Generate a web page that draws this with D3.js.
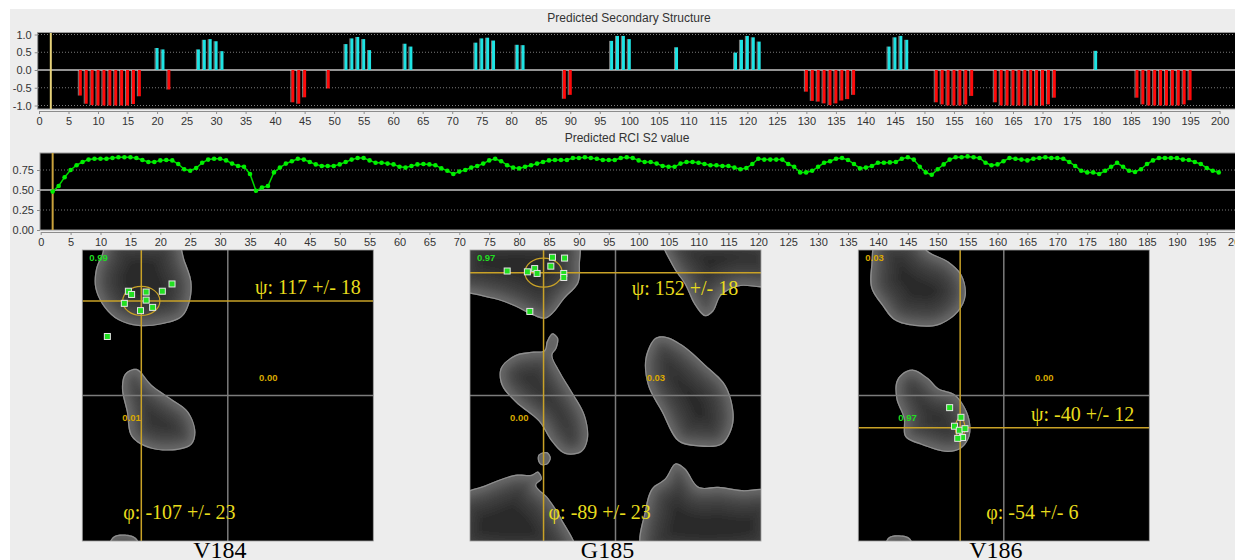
<!DOCTYPE html>
<html>
<head>
<meta charset="utf-8">
<script src="https://cdn.jsdelivr.net/npm/d3@7"></script>
<style>
  body { margin: 0; background: #fff; }
  svg { display: block; font-family: "Liberation Sans", Arial, sans-serif; }
</style>
</head>
<body>
<svg id="chart" width="1235" height="560"></svg>
<script>
// predicted secondary structure, + strand (cyan), - helix (red)
const ssResidue = [7, 8, 9, 10, 11, 12, 13, 14, 15, 16, 17, 20, 21, 22, 27, 28, 29, 30, 31,
  43, 44, 45, 49, 52, 53, 54, 55, 56, 62, 63, 74, 75, 76, 77, 81, 82, 89, 90,
  97, 98, 99, 100, 108, 118, 119, 120, 121, 122,
  130, 131, 132, 133, 134, 135, 136, 137, 138, 144, 145, 146, 147,
  152, 153, 154, 155, 156, 157, 158,
  162, 163, 164, 165, 166, 167, 168, 169, 170, 171, 172, 179,
  186, 187, 188, 189, 190, 191, 192, 193, 194, 195]
const ssValue = [-0.72, -0.95, -0.99, -1.0, -1.0, -1.0, -1.0, -1.0, -1.0, -0.96, -0.74, 0.62, 0.58, -0.55, 0.58, 0.85, 0.87, 0.81, 0.53,
  -0.91, -0.95, -0.77, -0.52, 0.73, 0.89, 0.93, 0.87, 0.56, 0.74, 0.66, 0.77, 0.89, 0.91, 0.83, 0.71, 0.70, -0.81, -0.70,
  0.82, 0.96, 0.96, 0.87, 0.64, 0.49, 0.85, 0.96, 0.92, 0.80,
  -0.61, -0.87, -0.89, -0.94, -0.99, -0.94, -0.86, -0.82, -0.70, 0.66, 0.92, 0.96, 0.85,
  -0.91, -0.97, -1.0, -1.0, -1.0, -0.97, -0.73,
  -0.91, -1.0, -1.0, -1.0, -1.0, -1.0, -1.0, -1.0, -1.0, -0.97, -0.78, 0.54,
  -0.78, -0.97, -1.0, -1.0, -1.0, -1.0, -1.0, -1.0, -0.97, -0.85]
const ssTicks = [-1, -0.5, 0, 0.5, 1]

// predicted RCI S2, residues 2..197
const s2First = 2
const s2Value = [0.48, 0.55, 0.66, 0.75, 0.81, 0.85, 0.88, 0.89, 0.89, 0.89, 0.90, 0.91, 0.91, 0.91, 0.90, 0.875, 0.85, 0.85, 0.87,
  0.875, 0.87, 0.825, 0.76, 0.74, 0.775, 0.84, 0.88, 0.89, 0.89, 0.87, 0.83, 0.80, 0.79, 0.70, 0.49, 0.53, 0.55, 0.72, 0.78,
  0.83, 0.86, 0.89, 0.88, 0.85, 0.82, 0.80, 0.80, 0.80, 0.82, 0.85, 0.88, 0.90, 0.90, 0.87, 0.84, 0.84, 0.83, 0.82, 0.79,
  0.78, 0.80, 0.82, 0.825, 0.82, 0.81, 0.77, 0.74, 0.70, 0.73, 0.75, 0.78, 0.80, 0.83, 0.87, 0.89, 0.86, 0.81, 0.78, 0.77,
  0.79, 0.81, 0.83, 0.85, 0.87, 0.875, 0.875, 0.875, 0.90, 0.90, 0.91, 0.90, 0.89, 0.875, 0.875, 0.875, 0.90, 0.91, 0.90,
  0.87, 0.85, 0.85, 0.83, 0.80, 0.79, 0.79, 0.83, 0.85, 0.85, 0.84, 0.825, 0.81, 0.81, 0.80, 0.80, 0.78, 0.76, 0.775,
  0.825, 0.89, 0.88, 0.88, 0.88, 0.88, 0.825, 0.79, 0.72, 0.72, 0.74, 0.79, 0.84, 0.86, 0.89, 0.90, 0.875, 0.825, 0.77,
  0.78, 0.80, 0.84, 0.84, 0.845, 0.85, 0.89, 0.91, 0.88, 0.79, 0.72, 0.69, 0.76, 0.82, 0.88, 0.91, 0.91, 0.92, 0.91, 0.90,
  0.84, 0.81, 0.82, 0.86, 0.90, 0.89, 0.88, 0.87, 0.89, 0.90, 0.91, 0.90, 0.90, 0.89, 0.85, 0.80, 0.74, 0.72, 0.72, 0.70,
  0.74, 0.79, 0.84, 0.79, 0.74, 0.725, 0.76, 0.825, 0.87, 0.90, 0.90, 0.90, 0.90, 0.88, 0.875, 0.85, 0.825, 0.775, 0.74, 0.72]
const s2Ticks = [0, 0.25, 0.5, 0.75]
const markedResidue = 2

// Ramachandran panels
const ramaName = ["V184", "G185", "V186"]
const ramaPhi = [-107, -89, -54]
const ramaPhiErr = [23, 23, 6]
const ramaPsi = [117, 152, -40]
const ramaPsiErr = [18, 18, 12]
// region label anchors: beta, alpha-L, alpha-R
const regionPhi = [-160, 50, -119]
const regionPsi = [170, 22, -28]
const regionProb = [["0.99", "0.00", "0.01"], ["0.97", "0.03", "0.00"], ["0.03", "0.00", "0.97"]]

const matchesV184 = [[-123, 129], [-119, 125], [-101, 128], [-81, 129], [-69, 138], [-128, 114], [-101, 118], [-93, 109], [-108, 105], [-149, 73]]
const matchesG185 = [[-134, 154], [-109, 153], [-100, 157], [-97, 151], [-78, 171], [-63, 170], [-80, 160], [-64, 151], [-64, 146], [-106, 104]]
const matchesV186 = [[-67, -15], [-53, -27], [-61, -38], [-55, -43], [-48, -41], [-51, -52], [-57, -53]]

// density region outlines (phi, psi)
const blobsV184 = [
  [[-164, 133], [-163, 157], [-156, 174], [-148, 195], [-65, 195], [-53, 166], [-45, 141], [-47, 116], [-57, 97], [-82, 88], [-111, 86], [-135, 93], [-152, 108]],
  [[-127, 27], [-113, 33], [-94, 13], [-70, -4], [-49, -20], [-40, -45], [-45, -61], [-61, -67], [-94, -66], [-119, -51], [-125, -20], [-131, 9]],
  [[-148, -195], [-142, -175], [-127, -172], [-113, -177], [-109, -195]]
]
const blobsG185 = [
  [[-195, 195], [-195, 133], [-170, 124], [-145, 118], [-124, 110], [-104, 100], [-87, 95], [-77, 102], [-63, 120], [-46, 139], [-44, 161], [-48, 195]],
  [[59, 195], [70, 161], [86, 137], [98, 112], [111, 98], [121, 104], [131, 124], [152, 135], [195, 137], [195, 195]],
  [[-142, 34], [-124, 50], [-104, 54], [-88, 56], [-85, 67], [-78, 77], [-71, 71], [-73, 58], [-78, 50], [-69, 30], [-54, 5], [-38, -24], [-34, -53], [-42, -70], [-63, -72], [-79, -57], [-95, -32], [-124, -8], [-141, 13]],
  [[-95, -73], [-85, -70], [-80, -77], [-84, -85], [-92, -86], [-96, -80]],
  [[49, 71], [61, 73], [82, 63], [111, 38], [136, 13], [146, -20], [144, -41], [131, -61], [103, -63], [78, -57], [57, -20], [40, 13], [37, 46]],
  [[-195, -127], [-161, -111], [-124, -98], [-104, -98], [-96, -94], [-91, -103], [-98, -111], [-83, -127], [-67, -152], [-50, -195], [-195, -195]],
  [[34, -195], [37, -140], [45, -115], [61, -103], [74, -84], [86, -90], [103, -113], [127, -113], [156, -117], [195, -119], [195, -195]]
]
const blobsV186 = [
  [[-157, 195], [-164, 161], [-164, 133], [-151, 112], [-135, 93], [-110, 86], [-81, 87], [-56, 104], [-47, 124], [-52, 149], [-69, 166], [-93, 178], [-110, 195]],
  [[-126, 27], [-112, 32], [-93, 21], [-81, 9], [-60, 1], [-44, -24], [-42, -49], [-52, -65], [-69, -70], [-102, -61], [-122, -51], [-124, -28], [-133, -4], [-133, 17]],
  [[-147, -195], [-143, -176], [-131, -173], [-116, -177], [-112, -195]]
]
const ramaMatches = [matchesV184, matchesG185, matchesV186]
const ramaBlobs = [blobsV184, blobsG185, blobsV186]

const svg = d3.select("#chart")
const defs = svg.append("defs")

defs.append("filter").attr("id", "soft")
  .attr("x", "-10%").attr("y", "-10%").attr("width", "120%").attr("height", "120%")
  .append("feGaussianBlur").attr("stdDeviation", 3)

svg.append("rect")
  .attr("x", 10).attr("y", 9).attr("width", 1225).attr("height", 551)
  .attr("fill", "#ededed")

function styleAxis(g) {
  g.selectAll("path, line").attr("stroke", "#8c8c8c")
  g.selectAll("text").attr("fill", "#333").style("font-size", "11px")
    .style("font-family", "'Liberation Sans', Arial, sans-serif")
}

// ---------- secondary structure ----------
var x1 = d3.scaleLinear().domain([0, 200]).range([39, 1219.6])
var y1 = d3.scaleLinear().domain([-1, 1]).range([105.5, 34.5])

svg.append("text")
  .attr("x", 629).attr("y", 22).attr("text-anchor", "middle")
  .attr("fill", "#333").style("font-size", "12px")
  .text("Predicted Secondary Structure")

svg.append("rect")
  .attr("x", 37.7).attr("y", 32.5).attr("width", 1215).attr("height", 76.5)
  .attr("fill", "#000").attr("stroke", "#9a9a9a")

svg.append("g").selectAll("line")
  .data(ssTicks.filter(d => d !== 0))
  .join("line")
  .attr("x1", 38).attr("x2", 1235)
  .attr("y1", d => y1(d)).attr("y2", d => y1(d))
  .attr("stroke", "#7a7a7a").attr("stroke-dasharray", "1,2")

svg.append("line")
  .attr("x1", 38).attr("x2", 1235).attr("y1", y1(0)).attr("y2", y1(0))
  .attr("stroke", "#c4c4c4").attr("stroke-width", 1.5)

svg.append("line")
  .attr("x1", x1(markedResidue)).attr("x2", x1(markedResidue))
  .attr("y1", 33).attr("y2", 109)
  .attr("stroke", "#e6d27a").attr("stroke-width", 2)

var ssData = ssResidue.map((r, i) => ({ r: r, v: ssValue[i] }))
var bars = svg.append("g").selectAll("g").data(ssData).join("g")
bars.append("rect")
  .attr("x", d => x1(d.r) - 1.5)
  .attr("y", d => Math.min(y1(d.v), y1(0)))
  .attr("width", 3)
  .attr("height", d => Math.abs(y1(d.v) - y1(0)))
  .attr("fill", d => d.v > 0 ? "#1ee3e3" : "#ff0a0a")
bars.append("line")
  .attr("x1", d => x1(d.r) - 2).attr("x2", d => x1(d.r) - 2)
  .attr("y1", d => y1(d.v)).attr("y2", y1(0))
  .attr("stroke", "#e2e2e2").attr("stroke-opacity", 0.55)

svg.append("g")
  .attr("transform", "translate(0,111)")
  .call(d3.axisBottom(x1).tickValues(d3.range(0, 201, 5)).tickSize(3).tickSizeOuter(0))
  .call(styleAxis)

svg.append("g")
  .attr("transform", "translate(37.7,0)")
  .call(d3.axisLeft(y1).tickValues(ssTicks).tickFormat(d => d.toFixed(1)).tickSize(3))
  .call(g => g.select(".domain").remove())
  .call(styleAxis)

// ---------- RCI S2 ----------
var x2 = d3.scaleLinear().domain([0, 200]).range([40.7, 1236.7])
var y2 = d3.scaleLinear().domain([0, 1]).range([230, 150])

svg.append("text")
  .attr("x", 627).attr("y", 142).attr("text-anchor", "middle")
  .attr("fill", "#333").style("font-size", "12px")
  .text("Predicted RCI S2 value")

svg.append("rect")
  .attr("x", 40).attr("y", 153).attr("width", 1210).attr("height", 77)
  .attr("fill", "#000").attr("stroke", "#9a9a9a")

svg.append("g").selectAll("line")
  .data([0.25, 0.75])
  .join("line")
  .attr("x1", 40).attr("x2", 1235)
  .attr("y1", d => y2(d)).attr("y2", d => y2(d))
  .attr("stroke", "#7a7a7a").attr("stroke-dasharray", "1,2")

svg.append("line")
  .attr("x1", 40).attr("x2", 1235).attr("y1", y2(0.5)).attr("y2", y2(0.5))
  .attr("stroke", "#c4c4c4").attr("stroke-width", 1.5)

svg.append("line")
  .attr("x1", x2(markedResidue)).attr("x2", x2(markedResidue))
  .attr("y1", 153).attr("y2", 230)
  .attr("stroke", "#c9a23c").attr("stroke-width", 2)

var s2Data = s2Value.map((v, i) => ({ r: s2First + i, v: v }))
var line = d3.line()
  .x(d => x2(d.r))
  .y(d => y2(d.v))

svg.append("path")
  .attr("d", line(s2Data))
  .attr("fill", "none").attr("stroke", "#00d800").attr("stroke-width", 1.5)

svg.append("g").selectAll("circle")
  .data(s2Data)
  .join("circle")
  .attr("cx", d => x2(d.r)).attr("cy", d => y2(d.v))
  .attr("r", 2.3).attr("fill", "#00f000")

svg.append("g")
  .attr("transform", "translate(0,232)")
  .call(d3.axisBottom(x2).tickValues(d3.range(0, 201, 5)).tickSize(3).tickSizeOuter(0))
  .call(styleAxis)

svg.append("g")
  .attr("transform", "translate(40,0)")
  .call(d3.axisLeft(y2).tickValues(s2Ticks).tickFormat(d => d.toFixed(2)).tickSize(3))
  .call(g => g.select(".domain").remove())
  .call(styleAxis)

// ---------- Ramachandran plots ----------
var ramaLeft = [82.3, 470, 858.3]
var ramaTop = 250, ramaSize = 291
var psiLabelX = [172.7, 161.7, 172.7]
var phiLabelDx = [-18, 5, 26]
var bands = [
  { w: 56, c: "#353535" },
  { w: 40, c: "#404040" },
  { w: 26, c: "#4d4d4d" },
  { w: 15, c: "#5a5a5a" },
  { w: 8, c: "#686868" }
]

ramaName.forEach((name, i) => {
  var left = ramaLeft[i]
  var px = d3.scaleLinear().domain([-180, 180]).range([left, left + ramaSize])
  var py = d3.scaleLinear().domain([-180, 180]).range([ramaTop + ramaSize, ramaTop])
  var g = svg.append("g")

  defs.append("clipPath").attr("id", "box" + i)
    .append("rect").attr("x", left).attr("y", ramaTop)
    .attr("width", ramaSize).attr("height", ramaSize)

  g.append("rect")
    .attr("x", left).attr("y", ramaTop).attr("width", ramaSize).attr("height", ramaSize)
    .attr("fill", "#000")

  var inner = g.append("g").attr("clip-path", "url(#box" + i + ")")
  var blobLine = d3.line()
    .x(d => px(d[0])).y(d => py(d[1]))
    .curve(d3.curveCatmullRomClosed.alpha(0.5))

  ramaBlobs[i].forEach((pts, j) => {
    var id = "blob" + i + "_" + j
    var d = blobLine(pts)
    defs.append("clipPath").attr("id", id).append("path").attr("d", d)
    var bg = inner.append("g").attr("clip-path", "url(#" + id + ")")
    var shade = bg.append("g").attr("filter", "url(#soft)")
    shade.append("path").attr("d", d).attr("fill", "#2c2c2c")
    bands.forEach(b => {
      shade.append("path").attr("d", d).attr("fill", "none")
        .attr("stroke", b.c).attr("stroke-width", b.w)
    })
    bg.append("path").attr("d", d).attr("fill", "none")
      .attr("stroke", "#8e8e8e").attr("stroke-width", 2.5)
  })

  // zero lines
  inner.append("line")
    .attr("x1", px(0)).attr("x2", px(0)).attr("y1", ramaTop).attr("y2", ramaTop + ramaSize)
    .attr("stroke", "#7c7c7c").attr("stroke-width", 1.5)
  inner.append("line")
    .attr("x1", left).attr("x2", left + ramaSize).attr("y1", py(0)).attr("y2", py(0))
    .attr("stroke", "#7c7c7c").attr("stroke-width", 1.5)

  // predicted phi / psi
  inner.append("line")
    .attr("x1", px(ramaPhi[i])).attr("x2", px(ramaPhi[i]))
    .attr("y1", ramaTop).attr("y2", ramaTop + ramaSize)
    .attr("stroke", "#c9a227").attr("stroke-width", 1.5)
  inner.append("line")
    .attr("x1", left).attr("x2", left + ramaSize)
    .attr("y1", py(ramaPsi[i])).attr("y2", py(ramaPsi[i]))
    .attr("stroke", "#c9a227").attr("stroke-width", 1.5)
  inner.append("ellipse")
    .attr("cx", px(ramaPhi[i])).attr("cy", py(ramaPsi[i]))
    .attr("rx", px(ramaPhiErr[i]) - px(0))
    .attr("ry", py(0) - py(ramaPsiErr[i]))
    .attr("fill", "none").attr("stroke", "#c9a227").attr("stroke-width", 1.2)

  // database matches
  inner.append("g").selectAll("rect")
    .data(ramaMatches[i])
    .join("rect")
    .attr("x", d => px(d[0]) - 3).attr("y", d => py(d[1]) - 3)
    .attr("width", 6).attr("height", 6)
    .attr("fill", "#22e022").attr("stroke", "#e6e6e6").attr("stroke-width", 1)

  // region probabilities
  var probs = regionProb[i]
  var best = d3.maxIndex(probs, d => +d)
  inner.append("g").selectAll("text")
    .data(probs)
    .join("text")
    .attr("x", (d, k) => px(regionPhi[k])).attr("y", (d, k) => py(regionPsi[k]))
    .attr("dy", "0.35em").attr("text-anchor", "middle")
    .attr("fill", (d, k) => k === best ? "#22dd22" : "#d9a800")
    .style("font-size", "9.5px").style("font-weight", "bold")
    .text(d => d)

  // psi / phi labels
  var psiY = py(ramaPsi[i])
  var psiBase = psiY - 25 < ramaTop ? psiY + 22 : psiY - 7
  g.append("text")
    .attr("x", left + psiLabelX[i]).attr("y", psiBase)
    .attr("fill", "#e8dc1c")
    .style("font-family", "'Liberation Serif', 'Times New Roman', serif")
    .style("font-size", "20px")
    .text("ψ: " + ramaPsi[i] + " +/- " + ramaPsiErr[i])
  g.append("text")
    .attr("x", px(ramaPhi[i]) + phiLabelDx[i]).attr("y", 519)
    .attr("fill", "#e8dc1c")
    .style("font-family", "'Liberation Serif', 'Times New Roman', serif")
    .style("font-size", "20px")
    .text("φ: " + ramaPhi[i] + " +/- " + ramaPhiErr[i])

  g.append("rect")
    .attr("x", left).attr("y", ramaTop).attr("width", ramaSize).attr("height", ramaSize)
    .attr("fill", "none").attr("stroke", "#a0a0a0").attr("stroke-width", 0.8)

  g.append("text")
    .attr("x", left + ramaSize / 2 - 8).attr("y", 558)
    .attr("text-anchor", "middle").attr("fill", "#000")
    .style("font-family", "'Liberation Serif', 'Times New Roman', serif")
    .style("font-size", "24px")
    .text(name)
})
</script>
